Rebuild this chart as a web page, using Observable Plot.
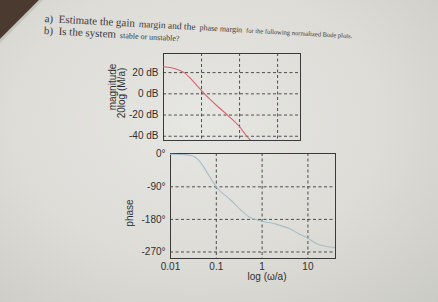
<!DOCTYPE html>
<html>
<head>
<meta charset="utf-8">
<script src="https://cdn.jsdelivr.net/npm/d3@7"></script>
<script src="https://cdn.jsdelivr.net/npm/@observablehq/plot@0.6"></script>
<style>
html,body{margin:0;padding:0}
body{width:438px;height:302px;overflow:hidden;position:relative;
  background:
    linear-gradient(135deg,#4a3a2f 0 27px,#c4c5bf 28px 30px,transparent 31px),
    radial-gradient(ellipse at 45% 40%,#e6e6e2 0%,#dddcd7 55%,#cbcbc5 100%);
  font-family:"Liberation Sans",Arial,sans-serif;}
#hdr{position:absolute;left:45px;top:11px;transform:rotate(3deg);transform-origin:0 0;
  font-family:"Liberation Serif","Times New Roman",serif;color:#3a3a3a;white-space:nowrap;line-height:12px}
#hdr div{height:12px}
.chart{position:absolute}
</style>
</head>
<body>
<div id="hdr">
  <div><span style="font-size:11px">a)&nbsp;&nbsp;Estimate the gain</span> <span style="font-size:9.5px">margin and the</span> <span style="font-size:8px">phase margin</span> <span style="font-size:6.5px">for the following normalized Bode plots.</span></div>
  <div><span style="font-size:11px">b)&nbsp;&nbsp;Is the system</span> <span style="font-size:8px">stable or unstable?</span></div>
</div>
<div id="mag" class="chart" style="left:95px;top:45px"></div>
<div id="phase" class="chart" style="left:95px;top:145px"></div>
<script>
// ---- data ----
const xDomain = [0.01, 40];
const xGrid = [0.1, 1, 10];
const xTicks = [0.01, 0.1, 1, 10];
const xTickLabels = ["0.01", "0.1", "1", "10"];

const magDomain = [-44, 38];
const magTicks = [20, 0, -20, -40];
const magFreq = [0.01, 0.016, 0.025, 0.035, 0.05, 0.075, 0.12, 0.25, 0.48, 1, 1.55, 2.1];
const magDb   = [25.5, 24.5, 22.5, 20, 15, 8, 0, -11, -20, -31, -40, -45];

const phaseDomain = [-288, 2];
const phaseTicks = [0, -90, -180, -270];
const phaseFreq = [0.01, 0.02, 0.03, 0.04, 0.05, 0.07, 0.1, 0.2, 0.35, 0.55, 1, 2, 4, 6, 10, 16, 25, 40];
const phaseDeg  = [0, -1, -4, -15, -30, -60, -90, -125, -155, -175, -185, -193, -206, -218, -232, -248, -255, -258];

const magLabel1 = "magnitude";
const magLabel2 = "20log (M/a)";
const phaseLabel = "phase";
const xLabel = "log (\u03c9/a)";

// ---- tables ----
const magData = magFreq.map((f, i) => ({f, v: magDb[i]}));
const phaseData = phaseFreq.map((f, i) => ({f, v: phaseDeg[i]}));

const style = {background: "transparent", fontFamily: "'Liberation Sans', Arial, sans-serif",
  fontSize: "10px", color: "#303030", overflow: "visible"};
const gridStyle = {stroke: "#333", strokeOpacity: 0.85, strokeWidth: 1, strokeDasharray: "3,2.5"};
const labelStyle = {text: d => d, frameAnchor: "left", textAnchor: "middle", lineAnchor: "middle",
  rotate: -90, fontSize: 10, fill: "#303030"};

const mag = Plot.plot({
  width: 215, height: 105, marginLeft: 68, marginRight: 10, marginTop: 8, marginBottom: 10,
  style,
  x: {type: "log", domain: xDomain, axis: null},
  y: {domain: magDomain, axis: null},
  marks: [
    Plot.gridX(xGrid, gridStyle),
    Plot.gridY(magTicks, gridStyle),
    Plot.frame({stroke: "#3a3a3a", strokeWidth: 1}),
    Plot.axisY(magTicks, {tickSize: 0, tickPadding: 5, tickFormat: d => `${d} dB`, label: null, fontSize: 10}),
    Plot.line(magData, {x: "f", y: "v", stroke: "#d8636e", strokeWidth: 1.1, curve: "monotone-x", clip: true}),
    Plot.text([magLabel1], {...labelStyle, dx: -51, dy: -10}),
    Plot.text([magLabel2], {...labelStyle, dx: -42, dy: -4})
  ]
});
document.getElementById("mag").append(mag);

const phase = Plot.plot({
  width: 250, height: 145, marginLeft: 75, marginRight: 10, marginTop: 8, marginBottom: 32,
  style,
  x: {type: "log", domain: xDomain},
  y: {domain: phaseDomain},
  marks: [
    Plot.gridX(xGrid, gridStyle),
    Plot.gridY(phaseTicks.filter(d => d !== 0), gridStyle),
    Plot.frame({stroke: "#3a3a3a", strokeWidth: 1}),
    Plot.axisY(phaseTicks, {tickSize: 0, tickPadding: 5, tickFormat: d => `${d}\u00b0`, label: null, fontSize: 10}),
    Plot.axisX(xTicks, {tickSize: 0, tickPadding: 4, tickFormat: d => xTickLabels[xTicks.indexOf(d)], label: null, fontSize: 10}),
    Plot.line(phaseData, {x: "f", y: "v", stroke: "#a6bfcc", strokeWidth: 1.1, curve: "monotone-x", clip: true}),
    Plot.text([phaseLabel], {...labelStyle, dx: -41, dy: 7}),
    Plot.text([xLabel], {text: d => d, frameAnchor: "bottom", dx: 14, dy: 21, fontSize: 10, fill: "#303030"})
  ]
});
document.getElementById("phase").append(phase);
</script>
</body>
</html>
